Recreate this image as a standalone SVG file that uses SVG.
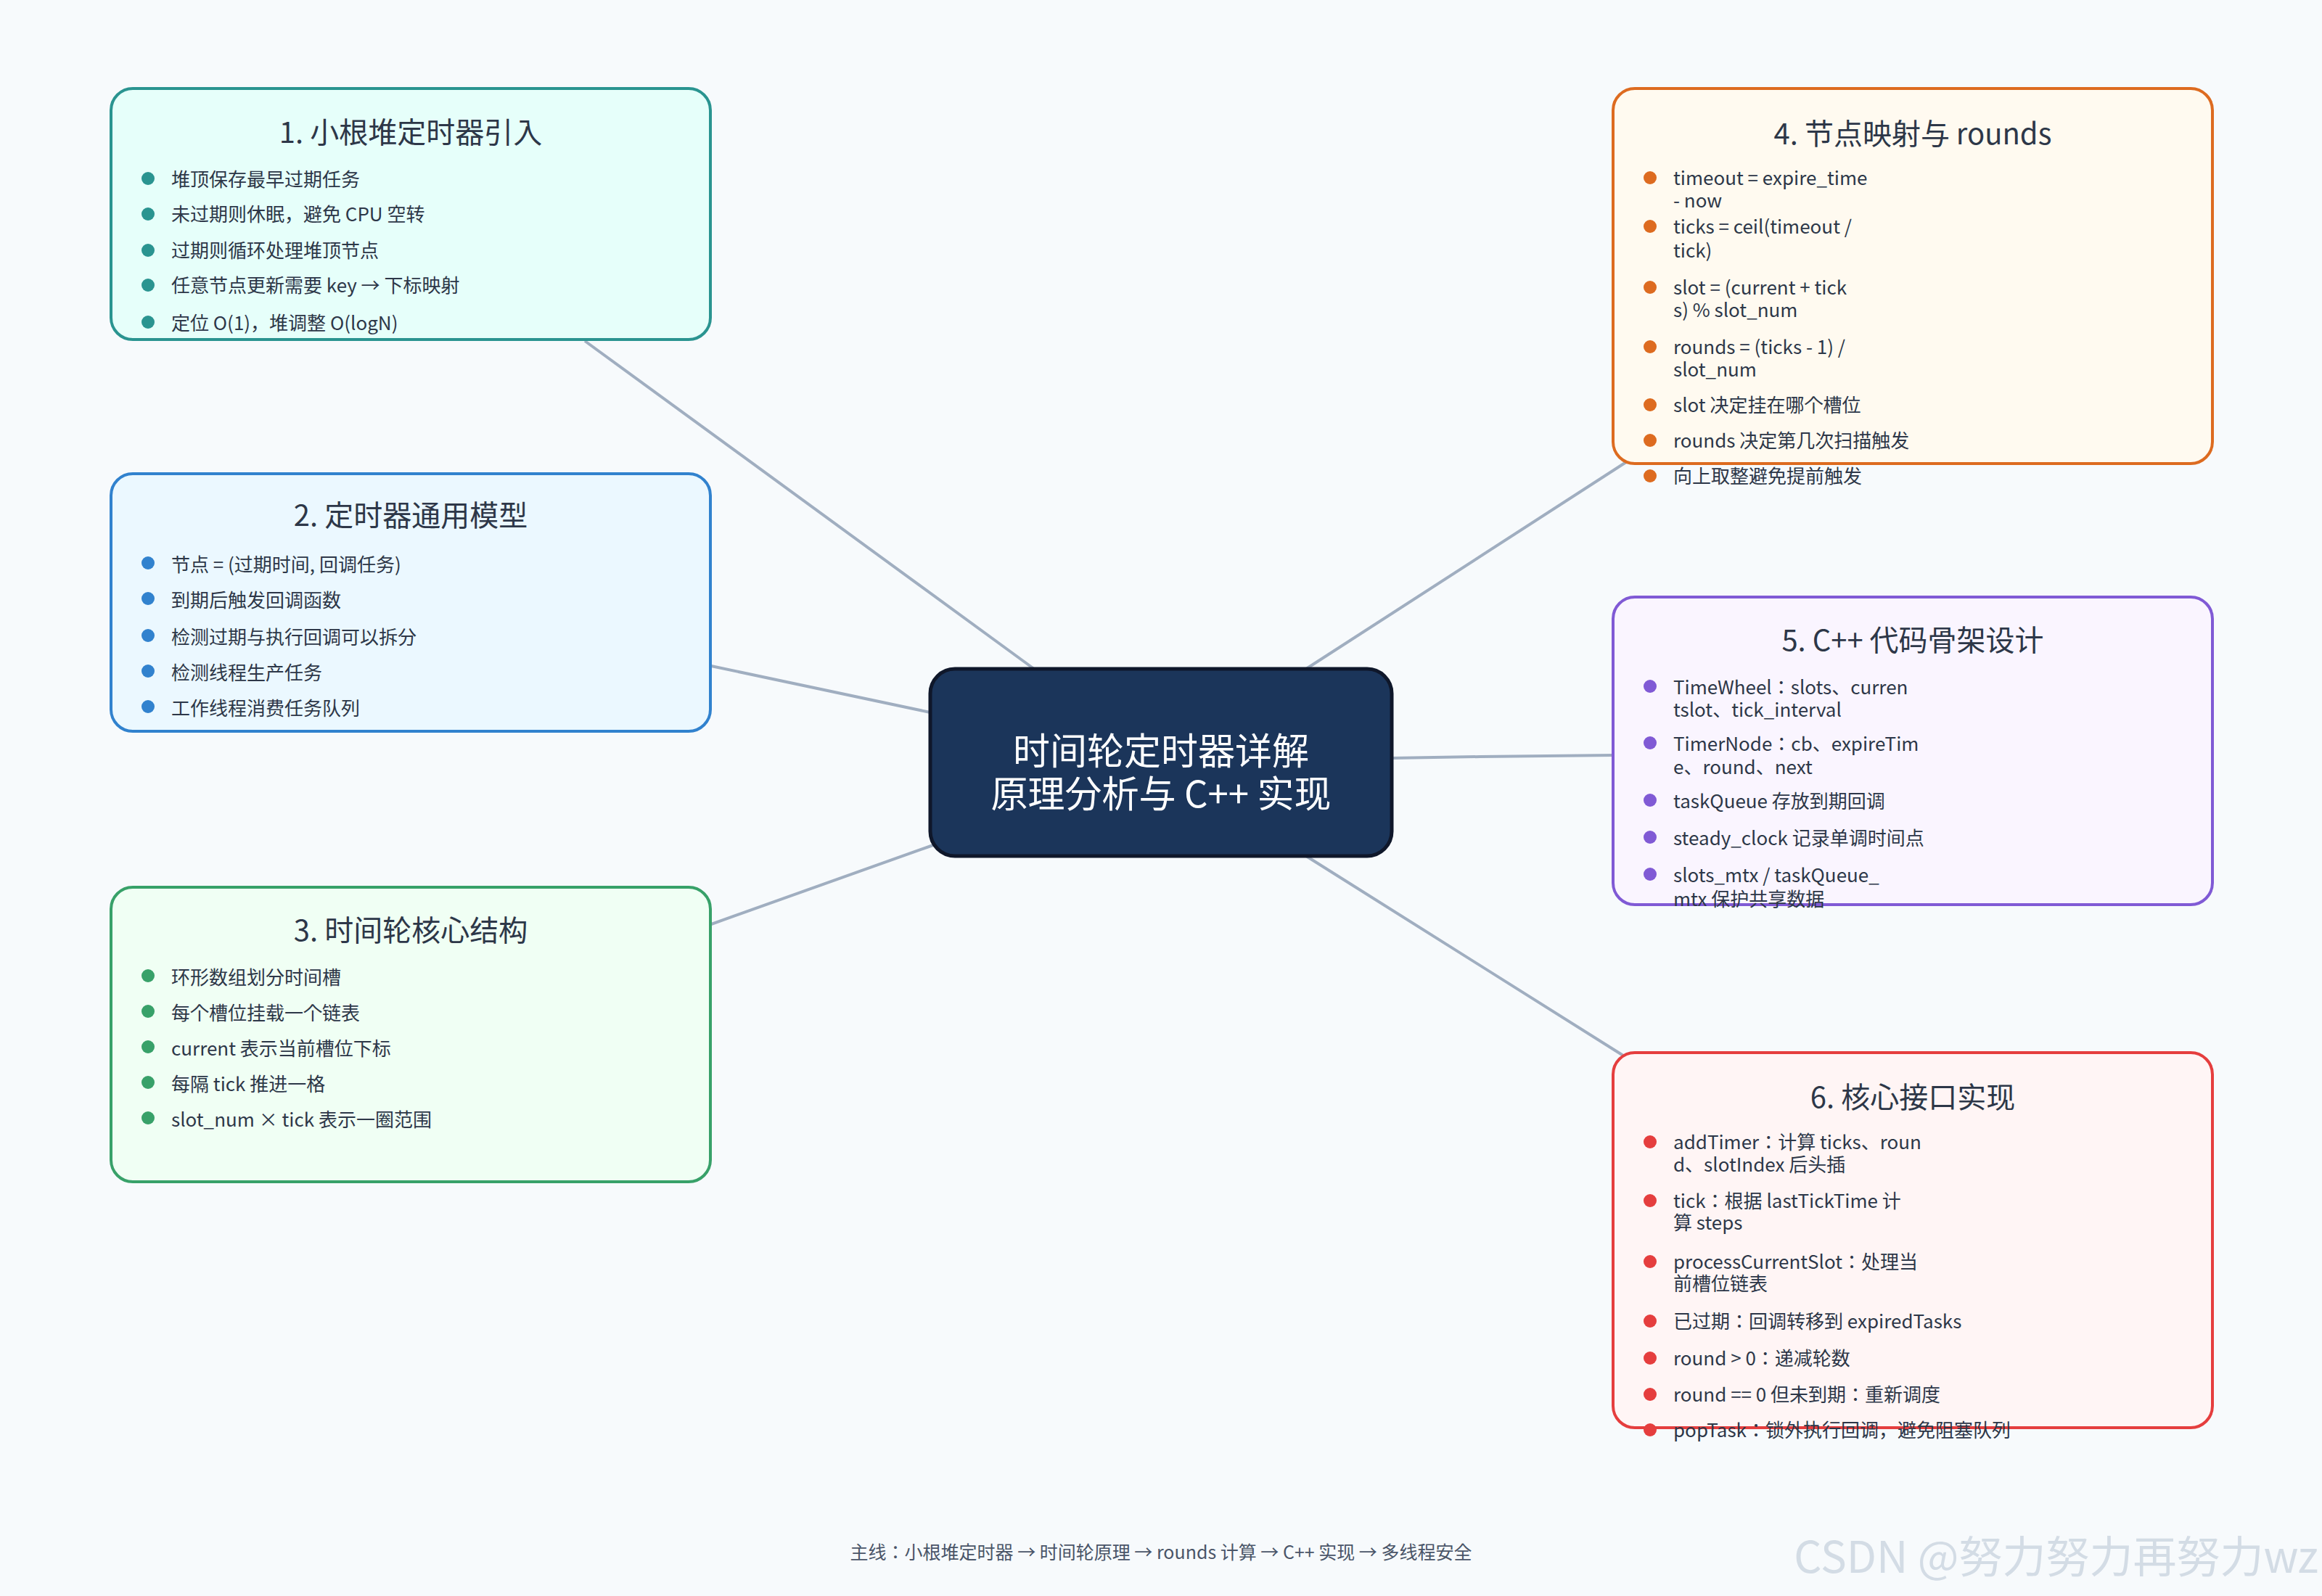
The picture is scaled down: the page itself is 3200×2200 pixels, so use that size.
<svg xmlns="http://www.w3.org/2000/svg" width="3200" height="2200" viewBox="0 0 3200 2200">
<style>
text{font-family:"Noto Sans CJK JP","Noto Sans CJK SC","Noto Sans",sans-serif;fill:#2d3748}
.t{font-size:40px;text-anchor:middle}
.i{font-size:26px}
.box{stroke-width:4}
.c{stroke:#a0aec0;stroke-width:4;fill:none}
</style>
<rect width="3200" height="2200" fill="#f7fafc"/>
<g id="connectors">
<line class="c" x1="806" y1="470" x2="1425" y2="922"/>
<line class="c" x1="980" y1="918" x2="1282" y2="982"/>
<line class="c" x1="980" y1="1274" x2="1286" y2="1165"/>
<line class="c" x1="2241" y1="637" x2="1800" y2="922"/>
<polyline class="c" points="1918,1045 2040,1043 2223,1041"/>
<line class="c" x1="1800" y1="1180" x2="2237" y2="1455"/>
</g>
<g id="center">
<rect x="1282" y="922" width="636" height="258" rx="34" fill="#1b355a" stroke="#0f172a" stroke-width="5"/>
<text x="1600" y="1054" style="font-size:51px;fill:#ffffff" text-anchor="middle">时间轮定时器详解</text>
<text x="1600" y="1113" style="font-size:51px;fill:#ffffff" text-anchor="middle">原理分析与 C++ 实现</text>
</g>
<g id="n1">
<rect class="box" x="153" y="122" width="826" height="346" rx="30" fill="#e6fffa" stroke="#2a9490"/>
<text class="t" x="566" y="197">1. 小根堆定时器引入</text>
<g fill="#2a9490"><circle cx="204" cy="246" r="9"/><circle cx="204" cy="295" r="9"/><circle cx="204" cy="345" r="9"/><circle cx="204" cy="393" r="9"/><circle cx="204" cy="444" r="9"/></g>
<text class="i" x="236" y="257">堆顶保存最早过期任务</text>
<text class="i" x="236" y="305">未过期则休眠，避免 CPU 空转</text>
<text class="i" x="236" y="355">过期则循环处理堆顶节点</text>
<text class="i" x="236" y="403">任意节点更新需要 key → 下标映射</text>
<text class="i" x="236" y="455">定位 O(1)，堆调整 O(logN)</text>
</g>
<g id="n2">
<rect class="box" x="153" y="653" width="826" height="355" rx="30" fill="#ebf8ff" stroke="#3182ce"/>
<text class="t" x="566" y="725">2. 定时器通用模型</text>
<g fill="#3182ce"><circle cx="204" cy="776" r="9"/><circle cx="204" cy="825" r="9"/><circle cx="204" cy="876" r="9"/><circle cx="204" cy="925" r="9"/><circle cx="204" cy="974" r="9"/></g>
<text class="i" x="236" y="788">节点 = (过期时间, 回调任务)</text>
<text class="i" x="236" y="837">到期后触发回调函数</text>
<text class="i" x="236" y="888">检测过期与执行回调可以拆分</text>
<text class="i" x="236" y="937">检测线程生产任务</text>
<text class="i" x="236" y="986">工作线程消费任务队列</text>
</g>
<g id="n3">
<rect class="box" x="153" y="1223" width="826" height="406" rx="30" fill="#f0fff4" stroke="#38a169"/>
<text class="t" x="566" y="1297">3. 时间轮核心结构</text>
<g fill="#38a169"><circle cx="204" cy="1345" r="9"/><circle cx="204" cy="1394" r="9"/><circle cx="204" cy="1443" r="9"/><circle cx="204" cy="1492" r="9"/><circle cx="204" cy="1541" r="9"/></g>
<text class="i" x="236" y="1357">环形数组划分时间槽</text>
<text class="i" x="236" y="1406">每个槽位挂载一个链表</text>
<text class="i" x="236" y="1455">current 表示当前槽位下标</text>
<text class="i" x="236" y="1504">每隔 tick 推进一格</text>
<text class="i" x="236" y="1553">slot_num × tick 表示一圈范围</text>
</g>
<g id="n4">
<rect class="box" x="2223" y="122" width="826" height="517" rx="30" fill="#fffaf0" stroke="#dd6b20"/>
<text class="t" x="2636" y="199">4. 节点映射与 rounds</text>
<g fill="#dd6b20"><circle cx="2274" cy="245" r="9"/><circle cx="2274" cy="312" r="9"/><circle cx="2274" cy="396" r="9"/><circle cx="2274" cy="478" r="9"/><circle cx="2274" cy="558" r="9"/><circle cx="2274" cy="607" r="9"/><circle cx="2274" cy="656" r="9"/></g>
<text class="i" x="2306" y="255">timeout = expire_time</text>
<text class="i" x="2306" y="286">- now</text>
<text class="i" x="2306" y="322">ticks = ceil(timeout /</text>
<text class="i" x="2306" y="355"> tick)</text>
<text class="i" x="2306" y="406">slot = (current + tick</text>
<text class="i" x="2306" y="437">s) % slot_num</text>
<text class="i" x="2306" y="488">rounds = (ticks - 1) /</text>
<text class="i" x="2306" y="519"> slot_num</text>
<text class="i" x="2306" y="568">slot 决定挂在哪个槽位</text>
<text class="i" x="2306" y="617">rounds 决定第几次扫描触发</text>
<text class="i" x="2306" y="666">向上取整避免提前触发</text>
</g>
<g id="n5">
<rect class="box" x="2223" y="823" width="826" height="424" rx="30" fill="#faf5ff" stroke="#805ad5"/>
<text class="t" x="2636" y="897">5. C++ 代码骨架设计</text>
<g fill="#805ad5"><circle cx="2274" cy="946" r="9"/><circle cx="2274" cy="1024" r="9"/><circle cx="2274" cy="1103" r="9"/><circle cx="2274" cy="1154" r="9"/><circle cx="2274" cy="1205" r="9"/></g>
<text class="i" x="2306" y="957">TimeWheel：slots、curren</text>
<text class="i" x="2306" y="988">tslot、tick_interval</text>
<text class="i" x="2306" y="1035">TimerNode：cb、expireTim</text>
<text class="i" x="2306" y="1067">e、round、next</text>
<text class="i" x="2306" y="1114">taskQueue 存放到期回调</text>
<text class="i" x="2306" y="1165">steady_clock 记录单调时间点</text>
<text class="i" x="2306" y="1216">slots_mtx / taskQueue_</text>
<text class="i" x="2306" y="1249">mtx 保护共享数据</text>
</g>
<g id="n6">
<rect class="box" x="2223" y="1451" width="826" height="517" rx="30" fill="#fff5f5" stroke="#e53e3e"/>
<text class="t" x="2636" y="1527">6. 核心接口实现</text>
<g fill="#e53e3e"><circle cx="2274" cy="1574" r="9"/><circle cx="2274" cy="1655" r="9"/><circle cx="2274" cy="1739" r="9"/><circle cx="2274" cy="1821" r="9"/><circle cx="2274" cy="1872" r="9"/><circle cx="2274" cy="1922" r="9"/><circle cx="2274" cy="1971" r="9"/></g>
<text class="i" x="2306" y="1584">addTimer：计算 ticks、roun</text>
<text class="i" x="2306" y="1615">d、slotIndex 后头插</text>
<text class="i" x="2306" y="1665">tick：根据 lastTickTime 计</text>
<text class="i" x="2306" y="1695">算 steps</text>
<text class="i" x="2306" y="1749">processCurrentSlot：处理当</text>
<text class="i" x="2306" y="1779">前槽位链表</text>
<text class="i" x="2306" y="1831">已过期：回调转移到 expiredTasks</text>
<text class="i" x="2306" y="1882">round &gt; 0：递减轮数</text>
<text class="i" x="2306" y="1932">round == 0 但未到期：重新调度</text>
<text class="i" x="2306" y="1981">popTask：锁外执行回调，避免阻塞队列</text>
</g>
<text x="1600" y="2149" text-anchor="middle" style="font-size:25px;fill:#4a5568">主线：小根堆定时器 → 时间轮原理 → rounds 计算 → C++ 实现 → 多线程安全</text>
<text x="3195" y="2168" text-anchor="end" style="font-size:60px;fill:#cbd5e0;opacity:0.8">CSDN @努力努力再努力wz</text>
</svg>
